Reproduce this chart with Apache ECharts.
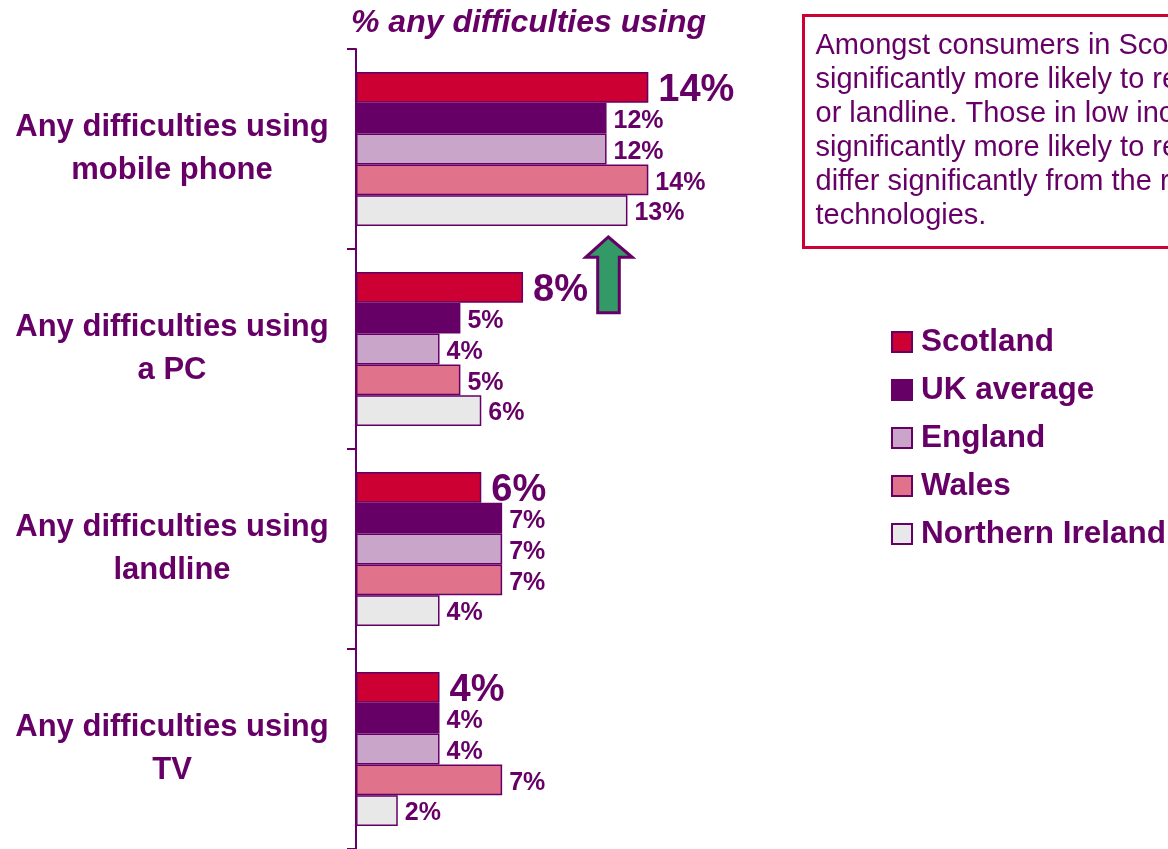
<!DOCTYPE html>
<html>
<head>
<meta charset="utf-8">
<script src="https://cdn.jsdelivr.net/npm/echarts@6/dist/echarts.min.js"></script>
<style>
  html, body { margin: 0; padding: 0; background: #ffffff; }
  #chart { width: 1168px; height: 849px; }
</style>
</head>
<body>
<div id="chart"></div>
<script>
// Share of people reporting any difficulty using each technology, by nation
const categories = [
  'Any difficulties using\nmobile phone',
  'Any difficulties using\na PC',
  'Any difficulties using\nlandline',
  'Any difficulties using\nTV'
];
const seriesNames = ['Scotland', 'UK average', 'England', 'Wales', 'Northern Ireland'];
const scotland = [14, 8, 6, 4];
const ukAverage = [12, 5, 7, 4];
const england = [12, 4, 7, 4];
const wales = [14, 5, 7, 7];
const northernIreland = [13, 6, 4, 2];

const PURPLE = '#660066';
const FONT = "'Liberation Sans', Arial, sans-serif";
const colors = ['#CC0033', '#660066', '#C9A6C9', '#E0728C', '#E8E8E8'];
const values = [scotland, ukAverage, england, wales, northernIreland];

const chart = echarts.init(document.getElementById('chart'), null, { renderer: 'canvas' });

const series = seriesNames.map((name, i) => ({
  name: name,
  type: 'bar',
  data: values[i],
  barGap: 0,
  barCategoryGap: '23%',
  itemStyle: { color: colors[i], borderColor: PURPLE, borderWidth: 1.5 },
  label: {
    show: true,
    position: 'right',
    distance: i === 0 ? 10 : 7,
    offset: [0, 3],
    formatter: '{c}%',
    color: PURPLE,
    fontFamily: FONT,
    fontWeight: 'bold',
    fontSize: i === 0 ? 38 : 25
  },
  emphasis: { disabled: true },
  animation: false
}));

chart.setOption({
  animation: false,
  title: {
    text: '% any difficulties using',
    left: 351,
    top: 7,
    padding: 0,
    textStyle: {
      color: PURPLE,
      fontFamily: FONT,
      fontWeight: 'bold',
      fontStyle: 'italic',
      fontSize: 32
    }
  },
  legend: {
    orient: 'vertical',
    left: 891,
    top: 326,
    padding: 0,
    itemWidth: 20,
    itemHeight: 20,
    itemGap: 16,
    icon: 'rect',
    data: seriesNames,
    textStyle: {
      color: PURPLE,
      fontFamily: FONT,
      fontWeight: 'bold',
      fontSize: 31.5,
      lineHeight: 30,
      padding: [0, 0, 0, 4]
    }
  },
  grid: { left: 356, top: 49, width: 417.6, height: 802, containLabel: false },
  xAxis: {
    type: 'value',
    min: 0,
    max: 20,
    show: false
  },
  yAxis: {
    type: 'category',
    data: categories,
    inverse: true,
    axisLine: { show: true, lineStyle: { color: PURPLE, width: 2 } },
    axisTick: { show: true, length: 9, lineStyle: { color: PURPLE, width: 2 } },
    axisLabel: {
      align: 'center',
      margin: 184,
      color: PURPLE,
      fontFamily: FONT,
      fontWeight: 'bold',
      fontSize: 31,
      lineHeight: 43
    },
    splitLine: { show: false }
  },
  series: series,
  graphic: [
    {
      // upward arrow flagging the higher PC score in Scotland
      type: 'polygon',
      shape: {
        points: [
          [608.3, 237], [632.3, 257.3], [619.3, 257.3], [619.3, 312.7],
          [597.7, 312.7], [597.7, 257.3], [585.7, 257.3]
        ]
      },
      style: { fill: '#339966', stroke: PURPLE, lineWidth: 3 },
      z: 10
    },
    {
      type: 'group',
      left: 802,
      top: 14,
      children: [
        {
          type: 'rect',
          shape: { x: 0, y: 0, width: 420, height: 232 },
          style: { fill: '#ffffff', stroke: '#CC0033', lineWidth: 3 }
        },
        {
          type: 'text',
          x: 12,
          y: 13,
          style: {
            text: 'Amongst consumers in Scotland,\nsignificantly more likely to report\nor landline. Those in low income\nsignificantly more likely to report\ndiffer significantly from the rest\ntechnologies.',
            fill: PURPLE,
            font: "29px 'Liberation Sans', Arial, sans-serif",
            lineHeight: 34
          }
        }
      ]
    }
  ]
});
</script>
</body>
</html>
